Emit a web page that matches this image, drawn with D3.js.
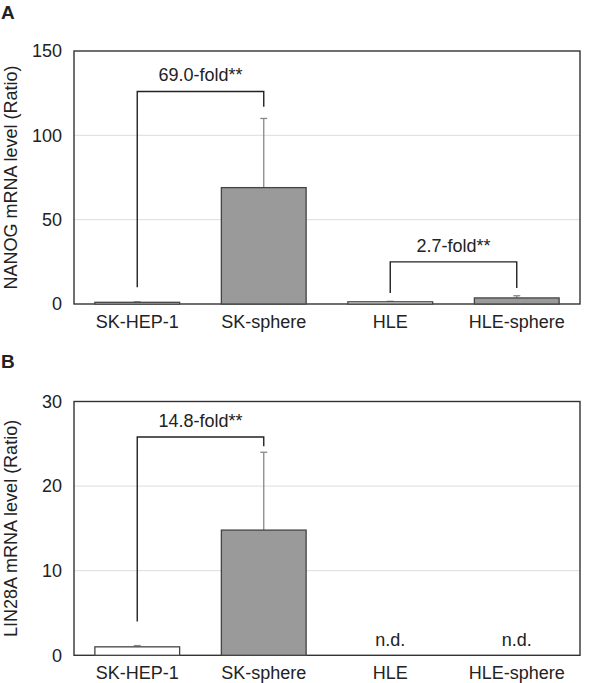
<!DOCTYPE html>
<html>
<head>
<meta charset="utf-8">
<script src="https://cdn.jsdelivr.net/npm/d3@7"></script>
<style>
  body { margin: 0; background: #fff; }
  svg text { font-family: "Liberation Sans", Arial, sans-serif; fill: #222; }
</style>
</head>
<body>
<div id="chart"></div>
<script>
// categories shared by both panels
var categories = ["SK-HEP-1", "SK-sphere", "HLE", "HLE-sphere"];
var isSphere = [false, true, false, true];

// panel A: NANOG
var nanogMean = [1.0, 69.0, 1.3, 3.6];
var nanogErr = [0.3, 41.0, 0.3, 1.3];
var nanogTicks = [0, 50, 100, 150];
// brackets: [from index, to index, top, left end, right end, label]
var nanogBrackets = [
  [0, 1, 126, 10, 117, "69.0-fold**"],
  [2, 3, 25, 6.5, 9.5, "2.7-fold**"]
];

// panel B: LIN28A (null = not detected)
var linMean = [1.0, 14.8, null, null];
var linErr = [0.15, 9.2, null, null];
var linTicks = [0, 10, 20, 30];
var linBrackets = [
  [0, 1, 25.8, 4.0, 24.7, "14.8-fold**"]
];

var svg = d3.select("#chart").append("svg")
    .attr("width", 600)
    .attr("height", 683);

var x = d3.scaleBand()
    .domain(categories)
    .range([74, 580])
    .paddingInner(0.33)
    .paddingOuter(0.165);

function panel(letter, letterY, top, bottom, means, errs, ticks, brackets, ylabel) {
  var y = d3.scaleLinear()
      .domain([0, ticks[ticks.length - 1]])
      .range([bottom, top]);

  var g = svg.append("g");

  // panel letter
  g.append("text")
      .attr("x", 1)
      .attr("y", letterY)
      .attr("font-size", 19)
      .attr("font-weight", "bold")
      .text(letter);

  // grid lines
  g.selectAll(".grid")
    .data(ticks.slice(1, -1))
    .enter().append("line")
      .attr("x1", 74).attr("x2", 580)
      .attr("y1", function(d) { return y(d); })
      .attr("y2", function(d) { return y(d); })
      .attr("stroke", "#dddddd")
      .attr("stroke-width", 1);

  // frame
  g.append("rect")
      .attr("x", 74).attr("y", top)
      .attr("width", 506).attr("height", bottom - top)
      .attr("fill", "none")
      .attr("stroke", "#333")
      .attr("stroke-width", 1.4);

  // y axis
  var yAxis = g.append("g")
      .attr("transform", "translate(74,0)")
      .call(d3.axisLeft(y).tickValues(ticks).tickSize(0).tickPadding(12));
  yAxis.select(".domain").remove();
  yAxis.selectAll("text")
      .attr("font-size", 18)
      .attr("fill", "#222")
      .style("font-family", "Liberation Sans, Arial, sans-serif");

  // x axis labels
  var xAxis = g.append("g")
      .attr("transform", "translate(0," + bottom + ")")
      .call(d3.axisBottom(x).tickSize(0).tickPadding(11));
  xAxis.select(".domain").remove();
  xAxis.selectAll("text")
      .attr("font-size", 18)
      .attr("fill", "#222")
      .style("font-family", "Liberation Sans, Arial, sans-serif");

  // y label
  g.append("text")
      .attr("transform", "translate(17," + ((top + bottom) / 2) + ")rotate(-90)")
      .attr("text-anchor", "middle")
      .attr("font-size", 18)
      .text(ylabel);

  var idx = d3.range(categories.length);

  // error bars (upper only)
  var eb = idx.filter(function(i) { return means[i] != null; });
  g.selectAll(".err")
    .data(eb)
    .enter().append("line")
      .attr("x1", function(i) { return x(categories[i]) + x.bandwidth() / 2; })
      .attr("x2", function(i) { return x(categories[i]) + x.bandwidth() / 2; })
      .attr("y1", function(i) { return y(means[i]); })
      .attr("y2", function(i) { return y(means[i] + errs[i]); })
      .attr("stroke", "#888")
      .attr("stroke-width", 1.3);
  g.selectAll(".cap")
    .data(eb)
    .enter().append("line")
      .attr("x1", function(i) { return x(categories[i]) + x.bandwidth() / 2 - 3.5; })
      .attr("x2", function(i) { return x(categories[i]) + x.bandwidth() / 2 + 3.5; })
      .attr("y1", function(i) { return y(means[i] + errs[i]); })
      .attr("y2", function(i) { return y(means[i] + errs[i]); })
      .attr("stroke", "#888")
      .attr("stroke-width", 1.3);

  // bars
  g.selectAll(".bar")
    .data(eb)
    .enter().append("rect")
      .attr("x", function(i) { return x(categories[i]); })
      .attr("y", function(i) { return y(means[i]); })
      .attr("width", x.bandwidth())
      .attr("height", function(i) { return y(0) - y(means[i]); })
      .attr("fill", function(i) { return isSphere[i] ? "#9a9a9a" : "#fff"; })
      .attr("stroke", "#444")
      .attr("stroke-width", 1.3);

  // n.d. labels
  g.selectAll(".nd")
    .data(idx.filter(function(i) { return means[i] == null; }))
    .enter().append("text")
      .attr("x", function(i) { return x(categories[i]) + x.bandwidth() / 2; })
      .attr("y", bottom - 9)
      .attr("text-anchor", "middle")
      .attr("font-size", 18)
      .text("n.d.");

  // significance brackets
  brackets.forEach(function(b) {
    var x1 = x(categories[b[0]]) + x.bandwidth() / 2;
    var x2 = x(categories[b[1]]) + x.bandwidth() / 2;
    g.append("path")
        .attr("d", "M" + x1 + "," + y(b[3]) + "V" + y(b[2]) + "H" + x2 + "V" + y(b[4]))
        .attr("fill", "none")
        .attr("stroke", "#222")
        .attr("stroke-width", 1.4);
    g.append("text")
        .attr("x", (x1 + x2) / 2)
        .attr("y", y(b[2]) - 10)
        .attr("text-anchor", "middle")
        .attr("font-size", 18)
        .text(b[5]);
  });
}

panel("A", 19, 51, 304, nanogMean, nanogErr, nanogTicks, nanogBrackets, "NANOG mRNA level (Ratio)");
panel("B", 368, 401.5, 655.3, linMean, linErr, linTicks, linBrackets, "LIN28A mRNA level (Ratio)");
</script>
</body>
</html>
